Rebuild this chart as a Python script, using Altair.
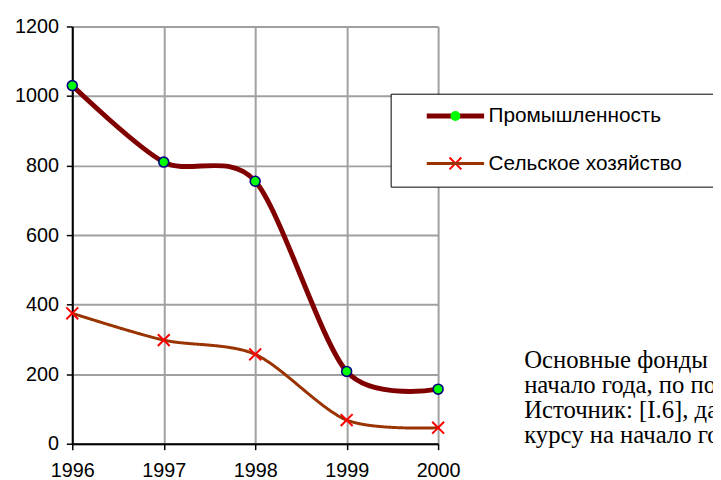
import altair as alt
import pandas as pd

years = [1996, 1997, 1998, 1999, 2000]
industry = [1030, 810, 755, 208, 157]
agriculture = [375, 298, 257, 68, 46]
series_names = ["Промышленность", "Сельское хозяйство"]
series_colors = ["#800000", "#993300"]
y_ticks = [0, 200, 400, 600, 800, 1000, 1200]
note_lines = [
    "Основные фонды в промышленности и сельском хозяйстве на",
    "начало года, по полной учетной стоимости, млн. долл.",
    "Источник: [I.6], данные пересчитаны по среднему",
    "курсу на начало года",
]

ind_df = pd.DataFrame({"year": years, "value": industry, "series": series_names[0], "marker": "m_ind"})
agr_df = pd.DataFrame({"year": years, "value": agriculture, "series": series_names[1], "marker": "m_agr"})

W, H = 370, 422
PAD_L, PAD_T = 65, 16
TOTAL_W, TOTAL_H = 713, 472
TENSION = 0.15

x_enc = alt.X(
    "year:Q",
    scale=alt.Scale(domain=[1996, 2000], nice=False, zero=False),
    axis=alt.Axis(values=years, format="d", title=None, labelPadding=11, labelFlush=False),
)
y_enc = alt.Y(
    "value:Q",
    scale=alt.Scale(domain=[0, 1200], nice=False),
    axis=alt.Axis(values=y_ticks, format="d", title=None, labelPadding=8),
)

BOX_X, BOX_Y, BOX_PAD = 322, 68, 12
ROW_STEP = 48
SYM_X = 377
LINE_PATH = "M-5.8,0L5.8,0"
X_PATH = "M-1.2,-1.2L1.2,1.2M1.2,-1.2L-1.2,1.2"

font_common = dict(labelFont="Liberation Sans", labelFontSize=21, labelColor="black", rowPadding=27)


def sym_legend(row, **kw):
    return alt.Legend(
        orient="none",
        legendX=SYM_X,
        legendY=BOX_Y + BOX_PAD + row * ROW_STEP,
        padding=0,
        symbolSize=100,
        labelOpacity=0,
        labelExpr="''",
        title=None,
        **font_common,
        **kw,
    )


box_legend = alt.Legend(
    orient="none",
    legendX=BOX_X,
    legendY=BOX_Y,
    padding=BOX_PAD,
    strokeColor="black",
    fillColor="white",
    symbolSize=100,
    symbolOpacity=0,
    labelOffset=66,
    labelLimit=800,
    title="WWWWWW",
    titleOrient="right",
    titleOpacity=0,
    titleFontSize=21,
    titlePadding=0,
    **font_common,
)

# agriculture line (also carries the legend box with both labels)
agr_line = alt.Chart(agr_df).mark_line(
    interpolate="cardinal", tension=TENSION, strokeWidth=3, strokeCap="round", strokeJoin="round"
).encode(
    x=x_enc,
    y=y_enc,
    color=alt.Color("series:N", scale=alt.Scale(domain=series_names, range=series_colors), legend=box_legend),
    strokeDash=alt.StrokeDash(
        "marker:N",
        scale=alt.Scale(domain=["m_agr"], range=[[1, 0]]),
        legend=sym_legend(1, symbolType=LINE_PATH, symbolStrokeColor=series_colors[1], symbolStrokeWidth=3),
    ),
)

ind_line = alt.Chart(ind_df).mark_line(
    interpolate="cardinal", tension=TENSION, color=series_colors[0], strokeWidth=5,
    strokeCap="round", strokeJoin="round"
).encode(
    x=x_enc,
    y=y_enc,
    opacity=alt.Opacity(
        "series:O",
        scale=alt.Scale(type="ordinal", domain=[series_names[0]], range=[1]),
        legend=sym_legend(0, symbolType=LINE_PATH, symbolStrokeColor=series_colors[0], symbolStrokeWidth=5),
    ),
)

ind_pts = alt.Chart(ind_df).mark_point(
    filled=True, fill="#00ff00", stroke="#000080", strokeWidth=1.6, size=100, opacity=1
).encode(
    x=x_enc,
    y=y_enc,
    shape=alt.Shape(
        "marker:N",
        scale=alt.Scale(domain=["m_ind"], range=["circle"]),
        legend=sym_legend(0, symbolFillColor="#00ff00", symbolStrokeColor="#000080", symbolStrokeWidth=1.6),
    ),
)

agr_pts = alt.Chart(agr_df).mark_point(
    shape=X_PATH, filled=False, stroke="#ff0000", size=100, opacity=1
).encode(
    x=x_enc,
    y=y_enc,
    strokeWidth=alt.StrokeWidth(
        "marker:O",
        scale=alt.Scale(type="ordinal", domain=["m_agr"], range=[2]),
        legend=sym_legend(1, symbolType=X_PATH, symbolStrokeColor="#ff0000"),
    ),
)

note = alt.Chart(pd.DataFrame({"k": [0]})).mark_text(
    text=note_lines,
    align="left",
    baseline="alphabetic",
    font="Liberation Serif",
    fontSize=25,
    lineHeight=25.5,
    color="black",
).encode(x=alt.value(457), y=alt.value(345))

chart = (
    alt.layer(agr_line, ind_line, ind_pts, agr_pts, note)
    .resolve_scale(strokeDash="independent", shape="independent")
    .properties(
        width=W,
        height=H,
        autosize=alt.AutoSizeParams(type="none"),
        padding={"left": PAD_L, "top": PAD_T, "right": TOTAL_W - PAD_L - W, "bottom": TOTAL_H - PAD_T - H},
        background="white",
    )
    .configure_view(strokeWidth=0)
    .configure_axis(
        labelFont="Liberation Sans",
        labelFontSize=20,
        labelColor="black",
        domainColor="black",
        domainWidth=2,
        tickColor="black",
        tickWidth=1.5,
        tickSize=6,
        grid=True,
        gridColor="#a0a0a0",
        gridWidth=2,
    )
)

chart.save("out.html", embed_options={"renderer": "svg", "actions": False})
